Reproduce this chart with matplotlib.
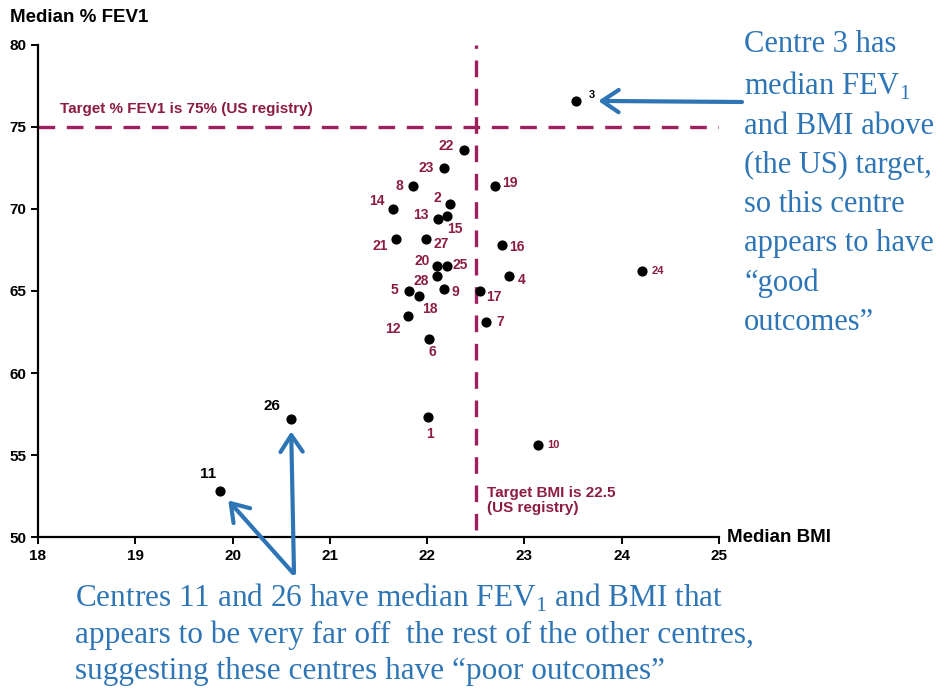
import matplotlib
matplotlib.use("Agg")
import matplotlib.pyplot as plt

plt.rcParams['font.family'] = ['Liberation Sans', 'DejaVu Sans']
plt.rcParams['mathtext.fontset'] = 'custom'
plt.rcParams['mathtext.rm'] = 'Liberation Serif'

# median BMI and median % FEV1 for each centre
centres = [1, 2, 3, 4, 5, 6, 7, 8, 9, 10, 11, 12, 13, 14,
           15, 16, 17, 18, 19, 20, 21, 22, 23, 24, 25, 26, 27, 28]
bmi = [22.01, 22.23, 23.53, 22.84, 21.81, 22.02, 22.60, 21.85, 22.17, 23.14,
       19.87, 21.80, 22.11, 21.65, 22.20, 22.77, 22.54, 21.92, 22.70, 22.10,
       21.68, 22.38, 22.17, 24.21, 22.20, 20.60, 21.99, 22.10]
fev1 = [57.3, 70.3, 76.6, 65.9, 65.0, 62.1, 63.1, 71.4, 65.1, 55.6,
        52.8, 63.5, 69.4, 70.0, 69.6, 67.8, 65.0, 64.7, 71.4, 66.5,
        68.2, 73.6, 72.5, 66.2, 66.5, 57.2, 68.2, 65.9]

target_bmi = 22.5
target_fev1 = 75

# label placement next to each dot (pixels)
label_offsets = {1: (2, -17), 2: (-12, 6), 3: (16, 6), 4: (13, -4), 5: (-14, 1),
                 6: (3, -13), 7: (15, 0), 8: (-13, 0), 9: (12, -3), 10: (15, 0),
                 11: (-12, 17), 12: (-15, -13), 13: (-17, 4), 14: (-16, 8),
                 15: (8, -13), 16: (15, -2), 17: (14, -6), 18: (11, -13),
                 19: (15, 3), 20: (-15, 5), 21: (-16, -7), 22: (-18, 4),
                 23: (-17, 0), 24: (16, 0), 25: (14, 1), 26: (-19, 13),
                 27: (15, -5), 28: (-16, -5)}

maroon = '#8c1d40'
line_col = '#9e1f5e'
blue = '#2e75b6'
serif = ['Liberation Serif', 'DejaVu Serif']

fig = plt.figure(figsize=(9.48, 6.96), dpi=100)
ax = fig.add_axes([38 / 948, 1 - 537 / 696, (719 - 38) / 948, (537 - 45) / 696])

ax.scatter(bmi, fev1, s=40, color='black', zorder=3)

for c, x, y in zip(centres, bmi, fev1):
    col = 'black' if c in (3, 11, 26) else maroon
    size = 8 if c in (3, 10, 24) else 10
    if c in (11, 26):
        size = 11
    ax.annotate(str(c), (x, y), xytext=label_offsets[c], textcoords='offset pixels',
                ha='center', va='center', color=col, fontsize=size, fontweight='bold')

# target lines
ax.axhline(target_fev1, color=line_col, lw=2.4, dashes=(5, 3.5), zorder=2)
ax.plot([target_bmi, target_bmi], [50.4, 80], color=line_col, lw=2.4,
        dashes=(5, 3.5), zorder=2)
ax.text(18.23, 76.1, 'Target % FEV1 is 75% (US registry)', color=maroon,
        fontsize=11, fontweight='bold', va='center')
ax.text(22.62, 52.2, 'Target BMI is 22.5\n(US registry)', color=maroon,
        fontsize=11, fontweight='bold', va='center', linespacing=1.1)

ax.set_xlim(18, 25)
ax.set_ylim(50, 80)
ax.set_xticks(range(18, 26))
ax.set_yticks(range(50, 81, 5))
ax.spines['top'].set_visible(False)
ax.spines['right'].set_visible(False)
for s in ('left', 'bottom'):
    ax.spines[s].set_linewidth(1.6)
ax.tick_params(direction='out', length=5, width=1.4, labelsize=11)
for lab in ax.get_xticklabels() + ax.get_yticklabels():
    lab.set_fontweight('bold')

fig.text(10 / 948, 1 - 18 / 696, 'Median % FEV1', fontsize=13.5, fontweight='bold',
         va='center', ha='left')
fig.text(727 / 948, 1 - 537 / 696, 'Median BMI', fontsize=13.5, fontweight='bold',
         va='center', ha='left')

# explanatory notes
fig.text(744 / 948, 1 - 30 / 696,
         'Centre 3 has\nmedian FEV$_{\\mathrm{1}}$\nand BMI above\n(the US) target,\n'
         'so this centre\nappears to have\n\u201cgood\noutcomes\u201d',
         color=blue, fontsize=22, family=serif,
         va='top', ha='left', linespacing=1.45)
fig.text(75 / 948, 1 - 582 / 696,
         'Centres 11 and 26 have median FEV$_{\\mathrm{1}}$ and BMI that\n'
         'appears to be very far off  the rest of the other centres,\n'
         'suggesting these centres have \u201cpoor outcomes\u201d',
         color=blue, fontsize=22.5, family=serif,
         va='top', ha='left', linespacing=1.3)

arrow = dict(arrowstyle='->,head_length=0.6,head_width=0.4', color=blue, lw=3,
             mutation_scale=20, shrinkA=0)
i3, i11, i26 = centres.index(3), centres.index(11), centres.index(26)
ax.annotate('', xy=(bmi[i3], fev1[i3]), xytext=(742, 696 - 102),
            textcoords='figure pixels', arrowprops=dict(arrow, shrinkB=16),
            annotation_clip=False)
ax.annotate('', xy=(bmi[i11], fev1[i11]), xytext=(293, 696 - 573),
            textcoords='figure pixels', arrowprops=dict(arrow, shrinkB=9),
            annotation_clip=False)
ax.annotate('', xy=(bmi[i26], fev1[i26]), xytext=(294, 696 - 573),
            textcoords='figure pixels', arrowprops=dict(arrow, shrinkB=9),
            annotation_clip=False)

fig.savefig('out.png', dpi=100)
